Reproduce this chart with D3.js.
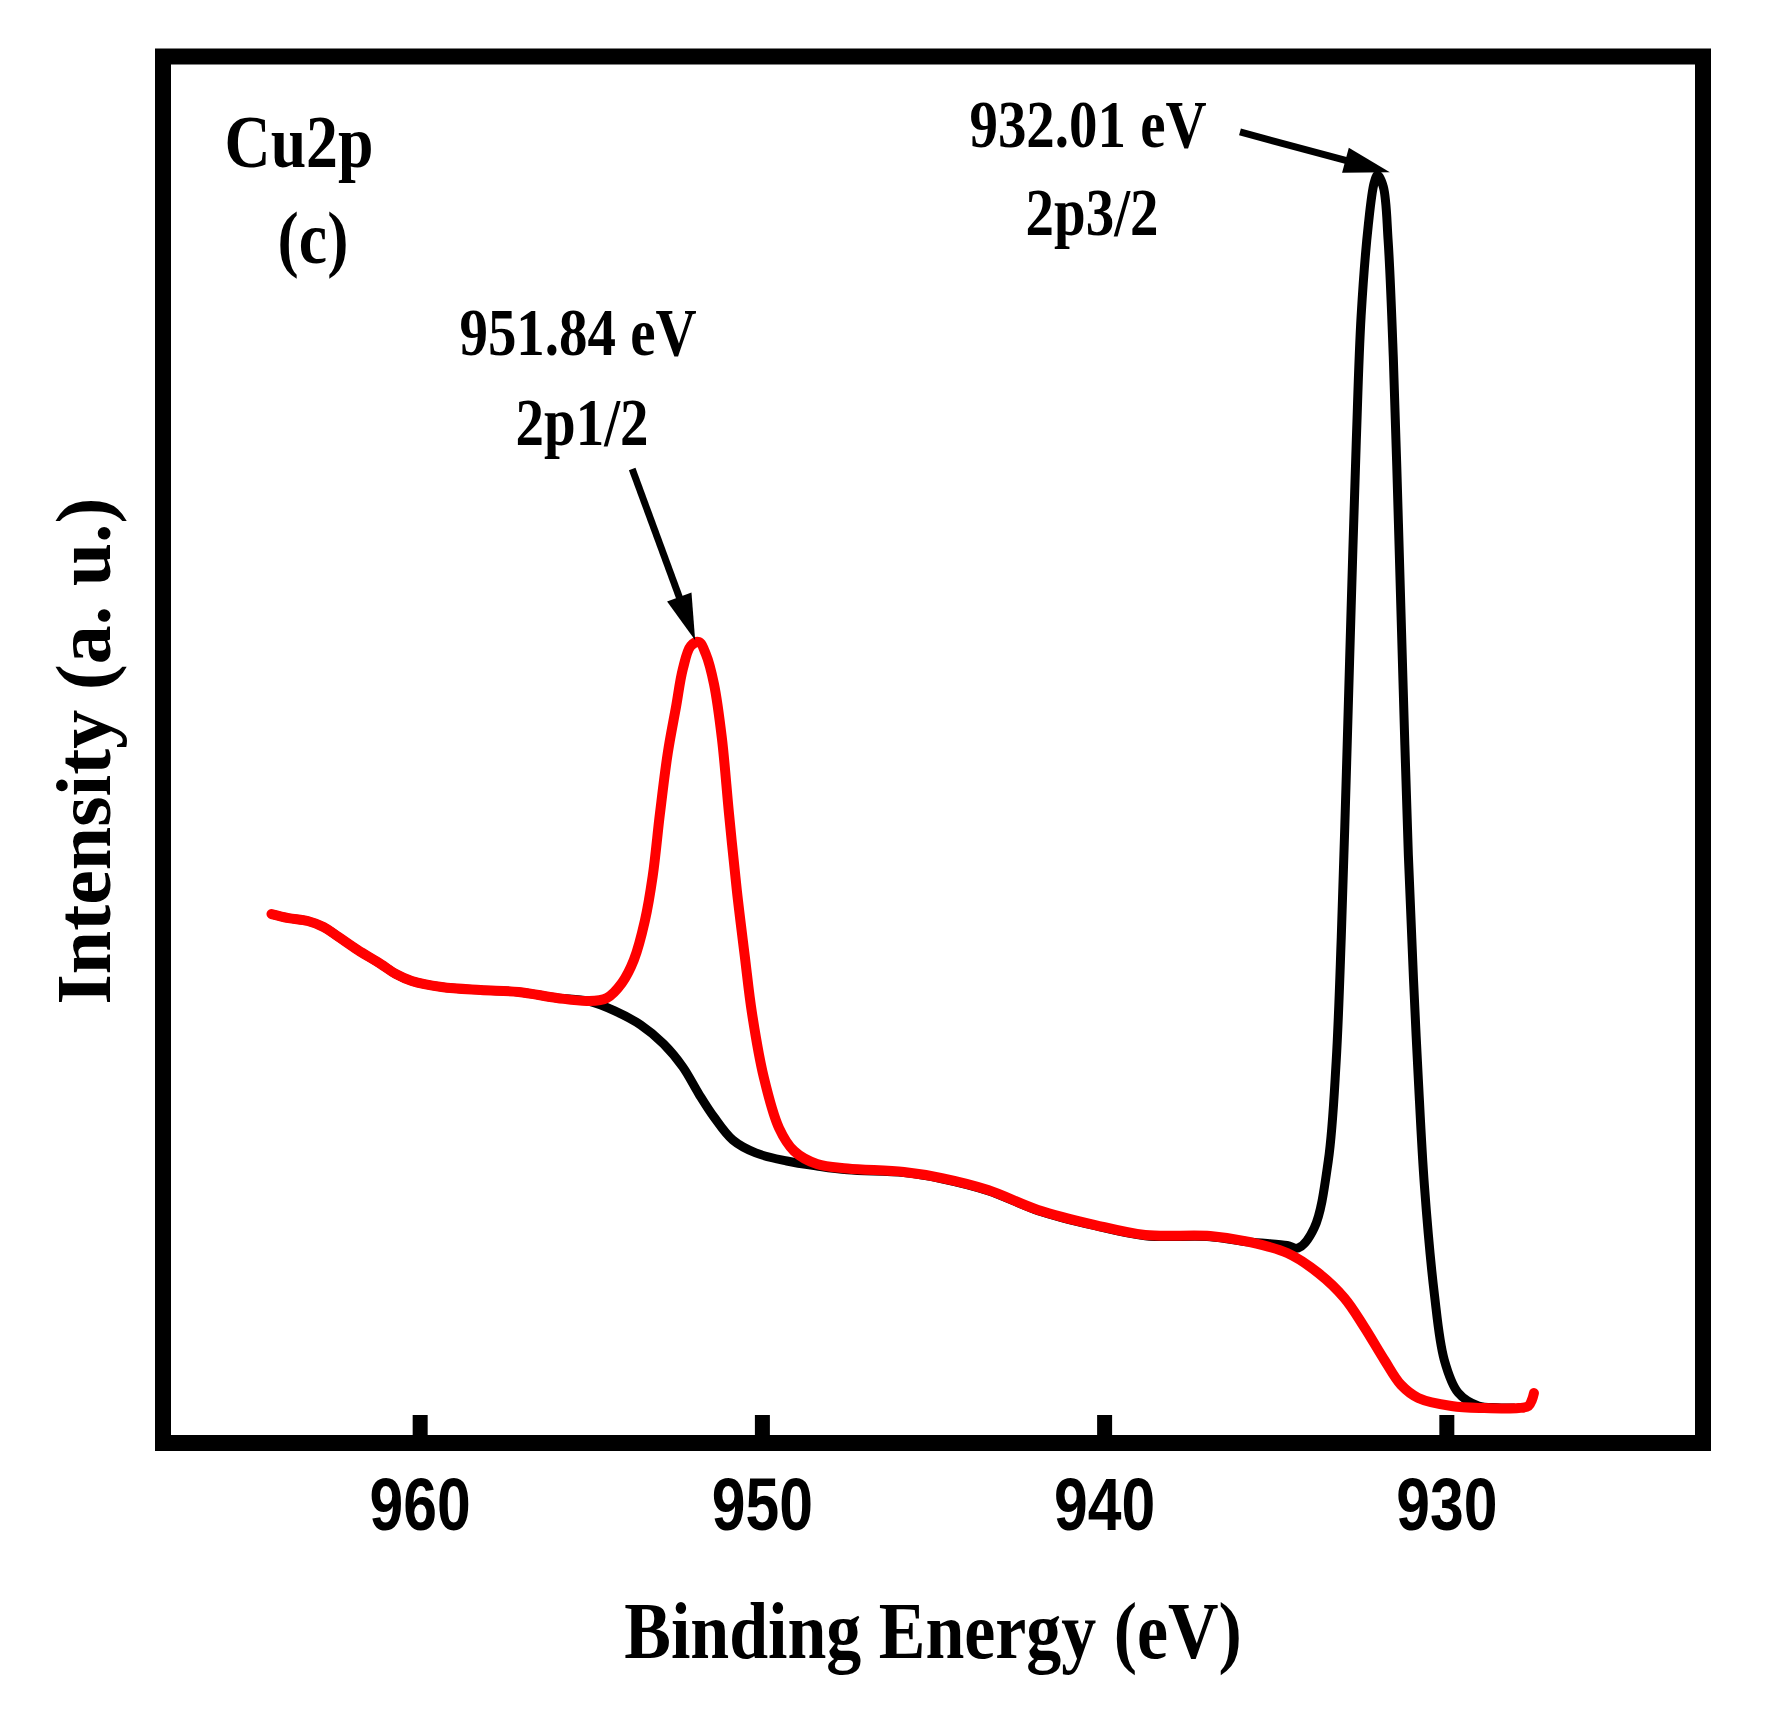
<!DOCTYPE html>
<html><head>
<meta charset="utf-8">
<title>Cu2p XPS</title>
<script src="https://d3js.org/d3.v7.min.js"></script>
<style>
  body { margin: 0; background: #fff; }
  text.serif { font-family: "Liberation Serif", "Times New Roman", serif; font-weight: bold; fill: #000; }
  text.sans { font-family: "Liberation Sans", Arial, sans-serif; font-weight: bold; fill: #000; }
</style>
</head>
<body>
<svg id="chart" width="1770" height="1717"></svg>

<script>
// --- data (binding energy in eV, intensity in arbitrary units) ---

// red trace: satellite-free part + 2p1/2 peak
const redEnergy = [964.33, 963.83, 963.27, 962.81, 962.37, 961.81, 961.14, 960.70, 960.23, 959.36,
  958.22, 957.11, 955.99, 955.09, 954.53, 954.09, 953.74, 953.42, 953.19, 952.98,
  952.75, 952.51, 952.31, 952.08, 951.84, 951.64, 951.40, 951.17, 950.96, 950.73,
  950.50, 950.29, 949.94, 949.50, 949.06, 948.39, 947.50, 945.85, 944.74, 943.39,
  941.93, 940.26, 938.80, 936.90, 935.76, 934.65, 933.74, 932.98, 932.40, 931.81,
  931.32, 930.82, 929.85, 928.89, 927.89, 927.60, 927.50, 927.44];
const redIntensity = [381.5, 378.6, 376.5, 372.2, 365.0, 355.6, 345.5, 338.3, 333.2, 328.9,
  326.7, 325.3, 321.0, 318.8, 321.0, 331.8, 348.4, 376.5, 408.9, 453.7,
  497.7, 530.8, 558.2, 574.8, 577.7, 569.1, 547.4, 508.5, 453.7, 398.1,
  351.2, 310.1, 263.3, 227.2, 210.6, 201.2, 198.0, 195.5, 191.1, 182.5,
  168.1, 157.2, 150.0, 149.3, 145.0, 137.0, 122.6, 104.6, 83.7, 59.9,
  41.8, 32.5, 26.7, 25.2, 25.2, 26.7, 31.0, 36.0];

// black trace: background under 2p1/2 + 2p3/2 peak
const blackEnergy = [964.33, 963.83, 963.27, 962.81, 962.37, 961.81, 961.14, 960.70, 960.23, 959.36,
  958.22, 957.11, 955.99, 955.09, 954.30, 953.54, 952.87, 952.31, 951.84, 951.40,
  950.85, 950.18, 949.27, 948.39, 947.50, 945.85, 944.74, 943.39, 941.93, 940.26,
  938.80, 936.90, 935.76, 934.65, 934.33, 933.86, 933.45, 933.22, 933.07, 932.92,
  932.78, 932.63, 932.49, 932.28, 932.11, 932.01, 931.84, 931.70, 931.55, 931.40,
  931.26, 931.11, 930.96, 930.82, 930.64, 930.35, 930.06, 929.65, 929.06, 928.50, 928.00];
const blackIntensity = [381.5, 378.6, 376.5, 372.2, 365.0, 355.6, 345.5, 338.3, 333.2, 328.9,
  326.7, 325.3, 321.0, 318.8, 311.6, 301.5, 287.8, 271.2, 251.7, 235.1,
  218.5, 209.2, 203.4, 199.8, 197.0, 195.0, 190.6, 182.0, 167.6, 156.7,
  149.5, 148.8, 145.0, 142.5, 140.6, 155.1, 203.4, 274.8, 364.9, 484.0,
  603.7, 723.4, 812.8, 878.5, 908.8, 914.5, 905.9, 866.9, 783.3, 663.5,
  543.8, 424.1, 334.7, 263.3, 185.4, 107.5, 59.9, 36.1, 26.7, 25.5, 25.2];

const xTicks = [960, 950, 940, 930];

// annotations: text lines and arrows (tail -> tip, in data units)
const peakLabels = [
  { lines: ["951.84 eV", "2p1/2"], cx: [578, 582], base: [355, 445] },
  { lines: ["932.01 eV", "2p3/2"], cx: [1088, 1092], base: [147, 235] }
];
const arrowTails = [[953.79, 702.5], [936.03, 945.6]];
const arrowTips  = [[951.95, 579.0], [931.65, 916.5]];

// --- layout ---
const svg = d3.select("#chart");
const frameL = 163, frameR = 1703, frameT = 56.5, frameB = 1443;

const x = d3.scaleLinear().domain([967.5, 922.5]).range([frameL, frameR]);
const y = d3.scaleLinear().domain([0, 1000]).range([frameB, frameT]);

const line = d3.line()
  .x(d => x(d[0]))
  .y(d => y(d[1]))
  .curve(d3.curveCatmullRom.alpha(0.5));

const blackData = blackEnergy.map((e, i) => [e, blackIntensity[i]]);
const redData = redEnergy.map((e, i) => [e, redIntensity[i]]);

svg.append("path").datum(blackData)
  .attr("d", line).attr("fill", "none")
  .attr("stroke", "#000").attr("stroke-width", 9)
  .attr("stroke-linejoin", "round");

svg.append("path").datum(redData)
  .attr("d", line).attr("fill", "none")
  .attr("stroke", "#ff0000").attr("stroke-width", 10)
  .attr("stroke-linejoin", "round").attr("stroke-linecap", "round");

// frame
svg.append("rect")
  .attr("x", frameL).attr("y", frameT)
  .attr("width", frameR - frameL).attr("height", frameB - frameT)
  .attr("fill", "none").attr("stroke", "#000").attr("stroke-width", 16);

// bottom axis, ticks pointing inward
const xAxis = svg.append("g")
  .attr("transform", `translate(0,${frameB})`)
  .call(d3.axisBottom(x).tickValues(xTicks).tickSize(-28).tickFormat(d3.format("d")));
xAxis.select(".domain").remove();
xAxis.selectAll(".tick line").attr("stroke", "#000").attr("stroke-width", 15);
xAxis.selectAll(".tick text")
  .attr("class", "sans")
  .attr("y", 87).attr("dy", 0)
  .attr("font-size", 74)
  .attr("transform", "scale(0.82,1)")
  .style("font-family", "'Liberation Sans', Arial, sans-serif")
  .style("font-weight", "bold")
  .attr("fill", "#000");

// axis titles
svg.append("text").attr("class", "serif")
  .attr("text-anchor", "middle").attr("font-size", 80)
  .attr("transform", "translate(933,1658) scale(0.874,1)")
  .text("Binding Energy (eV)");

svg.append("text").attr("class", "serif")
  .attr("text-anchor", "middle").attr("font-size", 78)
  .attr("transform", "translate(110,751) rotate(-90)")
  .text("Intensity (a. u.)");

// panel label
svg.append("text").attr("class", "serif")
  .attr("text-anchor", "middle").attr("font-size", 75)
  .attr("transform", "translate(299,167) scale(0.85,1)")
  .text("Cu2p");
svg.append("text").attr("class", "serif")
  .attr("text-anchor", "middle").attr("font-size", 75)
  .attr("transform", "translate(313,263) scale(0.85,1)")
  .text("(c)");

// peak labels
peakLabels.forEach(p => {
  p.lines.forEach((t, i) => {
    svg.append("text").attr("class", "serif")
      .attr("text-anchor", "middle").attr("font-size", 67)
      .attr("transform", `translate(${p.cx[i]},${p.base[i]}) scale(0.85,1)`)
      .text(t);
  });
});

// arrows
arrowTails.forEach((tail, i) => {
  const x0 = x(tail[0]), y0 = y(tail[1]);
  const x1 = x(arrowTips[i][0]), y1 = y(arrowTips[i][1]);
  const len = Math.hypot(x1 - x0, y1 - y0);
  const ux = (x1 - x0) / len, uy = (y1 - y0) / len;
  const headL = 46, headW = 13;
  const bx = x1 - ux * headL, by = y1 - uy * headL;
  svg.append("line")
    .attr("x1", x0).attr("y1", y0)
    .attr("x2", x1 - ux * headL * 0.7).attr("y2", y1 - uy * headL * 0.7)
    .attr("stroke", "#000").attr("stroke-width", 7);
  svg.append("polygon")
    .attr("points", [[x1, y1], [bx - uy * headW, by + ux * headW], [bx + uy * headW, by - ux * headW]].map(p => p.join(",")).join(" "))
    .attr("fill", "#000");
});
</script>
</body>
</html>
